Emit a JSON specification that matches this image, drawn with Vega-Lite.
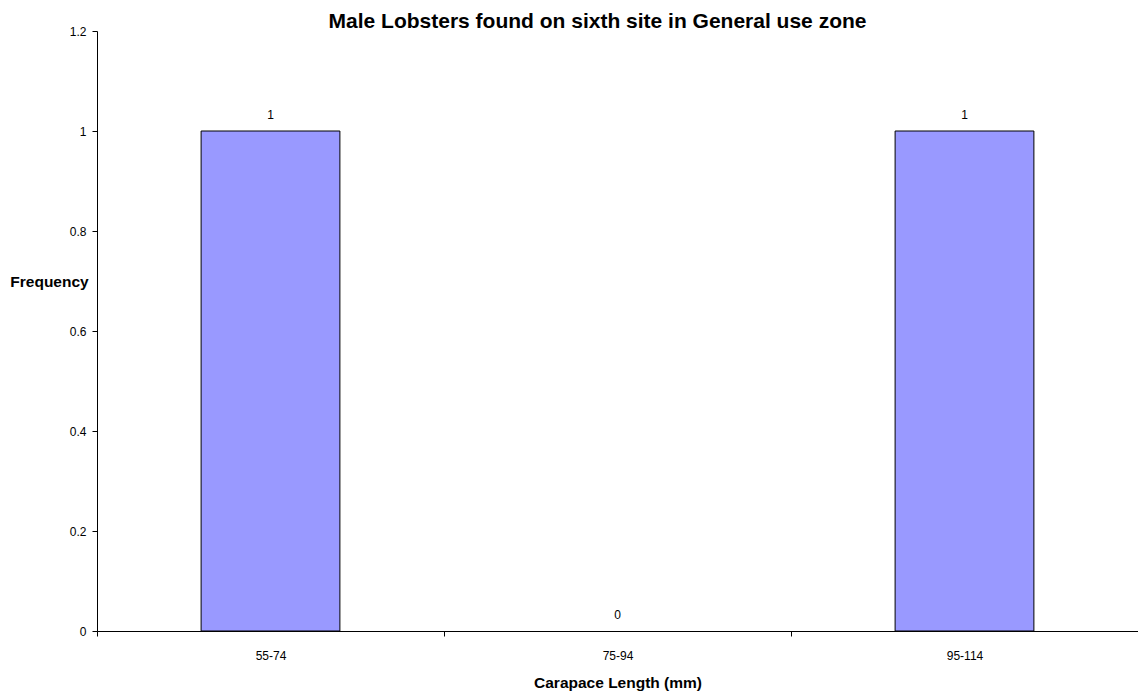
{
  "$schema": "https://vega.github.io/schema/vega-lite/v6.json",
  "autosize": "none",
  "width": 1041,
  "height": 600,
  "padding": {"left": 97, "top": 31, "right": 0, "bottom": 63},
  "background": "white",
  "title": {
    "text": "Male Lobsters found on sixth site in General use zone",
    "font": "Liberation Sans",
    "fontSize": 21,
    "fontWeight": "bold",
    "color": "black",
    "anchor": "middle",
    "offset": -7,
    "dx": -20
  },
  "data": {
    "values": [
      {"range": "55-74", "count": 1},
      {"range": "75-94", "count": 0},
      {"range": "95-114", "count": 1}
    ]
  },
  "config": {
    "view": {"stroke": null},
    "axis": {"labelFont": "Liberation Sans", "titleFont": "Liberation Sans", "labelColor": "black", "titleColor": "black", "domainColor": "black", "tickColor": "black", "grid": false}
  },
  "encoding": {
    "x": {
      "field": "range",
      "type": "nominal",
      "sort": null,
      "scale": {"paddingInner": 0, "paddingOuter": 0},
      "axis": {
        "title": "Carapace Length (mm)",
        "titleFontSize": 15.5,
        "titleFontWeight": "bold",
        "titlePadding": 14,
        "labelAngle": 0,
        "labelFontSize": 12,
        "labelPadding": 14,
        "tickBand": "extent",
        "tickSize": 5
      }
    },
    "y": {
      "field": "count",
      "type": "quantitative",
      "scale": {"domain": [0, 1.2]},
      "axis": {
        "title": "Frequency",
        "titleAngle": 0,
        "titleFontSize": 15.5,
        "titleFontWeight": "bold",
        "titleAlign": "center",
        "titleBaseline": "middle",
        "titleX": -48,
        "titleY": 250,
        "values": [0, 0.2, 0.4, 0.6, 0.8, 1, 1.2],
        "format": "~g",
        "labelFontSize": 12,
        "labelPadding": 6,
        "tickSize": 5
      }
    }
  },
  "layer": [
    {
      "mark": {"type": "bar", "color": "#9999FF", "stroke": "black", "strokeWidth": 1, "width": {"band": 0.4}},
      "encoding": {
        "strokeOpacity": {"condition": {"test": "datum.count == 0", "value": 0}, "value": 1}
      }
    },
    {
      "mark": {"type": "text", "baseline": "bottom", "dy": -9, "font": "Liberation Sans", "fontSize": 12, "color": "black"},
      "encoding": {"text": {"field": "count", "type": "quantitative"}}
    }
  ]
}
